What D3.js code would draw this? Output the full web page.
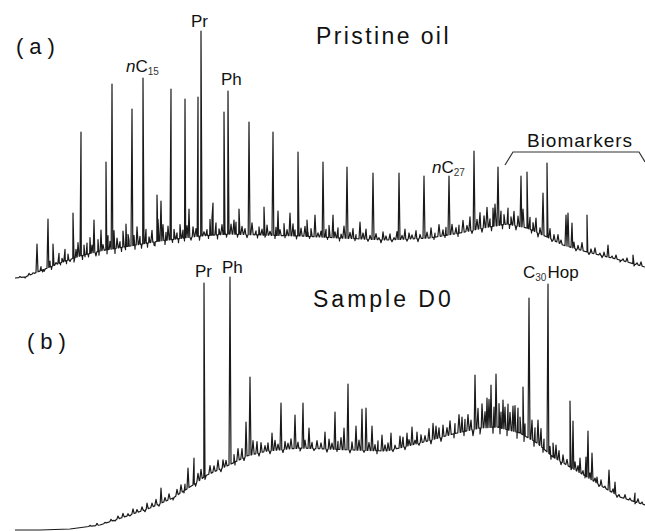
<!DOCTYPE html>
<html>
<head>
<meta charset="utf-8">
<script src="https://cdn.jsdelivr.net/npm/d3@7"></script>
<style>
  body { margin: 0; background: #fff; }
  text { font-family: "Liberation Sans", Arial, sans-serif; fill: #111; }
</style>
</head>
<body>
<div id="container"></div>
<script>
/* DATA */
// (a) pristine oil: baseline (retention time, signal)
const baseA_t = [0, 1, 2.5, 4.5, 6.5, 8.5, 11.5, 14.5, 18.5, 21.5, 24.5, 28.5, 32.5, 37.2, 41.5, 44.5, 46.8, 49.2, 51.2, 53.2, 54.8, 57.2, 60.5, 63];
const baseA_s = [1, 1.5, 4.5, 8.5, 12, 14.5, 17, 19.5, 22, 23, 22.5, 22, 21, 20, 21, 23.5, 26, 28, 26, 21.5, 17.5, 14, 10, 6.5];

// (a) resolved peaks: retention time, apex signal
const peakA_t = [2.2, 3.3, 3.8, 5.8, 6.6, 7.2, 7.9, 8.6, 9.1, 9.7, 11.1, 11.4, 11.7, 12.8, 14.2, 14.6, 15.6, 17.0, 17.4, 18.3, 18.6, 19.8, 20.9, 21.3, 22.4, 23.4, 24.9, 25.8, 26.3, 27.5, 28.3, 29.2, 30.0, 30.8, 31.8, 33.2, 34.5, 35.8, 38.4, 40.9, 43.4, 45.9, 47.8, 48.3, 50.6, 51.2, 52.8, 53.2, 55.1, 55.3, 55.7, 57.2, 59.3, 61.8];
const peakA_s = [18, 30.5, 18, 33.5, 74, 18.5, 30, 25, 59, 98, 28, 20, 85.5, 101, 42.5, 39.5, 95.5, 90.5, 35.5, 91.5, 124.5, 38.5, 84, 94.5, 35.5, 79, 36.5, 74, 34.5, 33.5, 64, 30, 32.5, 59, 32.5, 56.5, 29, 53.5, 53.5, 52, 52, 64.5, 36, 56.5, 52, 54, 43.5, 58.5, 32.5, 33.5, 28.5, 32.5, 17.5, 12.5];

// (a) unresolved small peaks and dips: [time, height above baseline]
const noiseA = [[0.5,0.5],[1.0,-0.5],[1.4,1],[1.8,0.5],[2.6,2],[2.75,-1],[2.9,-1],[3.5,3],[3.65,-1.5],[4.1,1],[4.4,5],[4.55,-1],[4.7,2],[5.0,6],[5.15,-1.5],[5.3,3],[5.5,-1],[5.9,-2],[6.1,4],[6.3,7],[6.75,-2],[6.9,5],[7.0,-1],[7.35,-1.5],[7.5,8],[7.7,4],[8.1,-2],[8.3,6],[8.4,-2],[8.8,3],[9.2,-2],[9.3,7],[9.5,4],[9.9,9],[10.0,-2.5],[10.2,5],[10.5,3],[10.65,-2],[10.8,8],[11.05,-1.5],[11.3,6],[11.9,5],[12.0,-2],[12.2,9],[12.5,4],[12.65,-2],[13.1,7],[13.25,-2],[13.4,3],[13.7,6],[13.9,-1.5],[14.0,-2],[14.3,11],[14.8,8],[15.0,-2],[15.1,4],[15.3,7],[15.75,-1.5],[15.9,5],[16.2,3],[16.35,-2],[16.5,7],[16.8,4],[16.95,-1.5],[17.2,6],[17.6,-1.5],[17.8,5],[18.1,4],[18.45,-2],[18.9,2],[19.2,3],[19.35,-1.5],[19.5,8],[19.7,9],[20.1,6],[20.25,-2],[20.4,3],[20.7,5],[21.0,2],[21.15,-1.5],[21.6,5],[21.9,7],[22.1,6],[22.25,-1.5],[22.7,4],[23.0,3],[23.2,-1.5],[23.7,6],[24.1,2],[24.25,-1.5],[24.4,4],[24.7,3],[25.0,-1],[25.2,5],[25.5,2],[26.0,-1.5],[26.1,4],[26.5,3],[26.9,6],[27.0,-1],[27.2,3],[27.8,6],[28.0,3],[28.15,-1.5],[28.6,4],[29.0,5],[29.3,2],[29.45,-1],[29.6,4],[30.3,2],[30.6,3],[31.1,4],[31.25,-1],[31.4,6],[32.0,3],[32.3,5],[32.45,-1.5],[32.6,2],[32.9,6],[33.5,3],[33.8,5],[34.0,-1],[34.1,2],[34.8,3],[35.1,5],[35.3,-1],[35.5,2],[36.1,3],[36.4,1],[36.6,-1.5],[36.8,4],[37.1,2],[37.5,3],[37.7,-1],[37.9,1],[38.2,4],[38.7,2],[39.0,5],[39.2,-1],[39.4,3],[39.7,2],[40.1,4],[40.3,-1.5],[40.5,2],[41.2,3],[41.6,5],[41.9,-1],[42.0,2],[42.4,6],[42.8,3],[43.0,-1],[43.1,4],[43.7,5],[44.1,3],[44.3,-1.5],[44.4,4],[44.8,6],[45.2,3],[45.5,7],[45.7,-1.5],[46.2,5],[46.5,8],[46.7,-2],[46.9,6],[47.2,10],[47.5,4],[47.65,-2],[48.0,11],[48.6,7],[48.75,-2],[48.9,5],[49.3,8],[49.45,-2],[49.6,4],[49.9,7],[50.1,-2],[50.3,5],[50.8,9],[51.5,6],[51.65,-1.5],[51.8,4],[52.1,7],[52.3,-2],[52.5,3],[53.5,5],[53.7,-1],[53.9,3],[54.3,4],[54.6,2],[55.9,3],[56.1,-1],[56.3,2],[56.7,4],[57.4,-1],[57.6,2],[58.0,3],[58.5,1],[58.7,-1],[58.9,2],[59.7,1],[60.1,2],[60.5,-1],[60.8,1],[61.2,2],[61.9,-1],[62.2,1],[62.6,2]];

// (b) sample D0
const baseB_t = [0, 2.5, 5.5, 8.5, 11.2, 13.5, 15.8, 17.8, 19.2, 21.2, 23.2, 25.2, 28.5, 33.8, 37.2, 40.5, 43.8, 46.5, 48.2, 50.5, 52.2, 53.8, 55.5, 57.2, 58.8, 60.5, 63];
const baseB_s = [0, 0, 0.5, 2.5, 7, 11, 16, 22.5, 27.5, 32, 37, 39.5, 41, 40, 39.5, 43.5, 48, 51, 51.5, 48.5, 43.5, 36.5, 31.5, 26.5, 21.5, 16.5, 12.5];

const peakB_t = [14.6, 17.3, 17.9, 18.9, 21.5, 23.1, 23.5, 25.7, 26.6, 28.0, 28.8, 29.4, 31.0, 32.0, 32.9, 33.3, 34.1, 34.7, 35.1, 35.7, 36.7, 37.6, 38.5, 39.2, 39.7, 40.2, 42.1, 42.8, 44.7, 46.0, 47.2, 47.6, 48.1, 48.8, 49.3, 49.8, 50.3, 50.8, 51.4, 52.3, 53.3, 54.1, 55.5, 55.8, 56.5, 57.1, 57.3, 57.7, 58.2, 59.4, 60.0, 62.0];
const peakB_s = [21, 31, 36, 123.5, 126.5, 54, 76.5, 48.5, 63.5, 57.5, 63.5, 51, 49, 59, 51, 73, 52, 60.5, 61, 52, 47.5, 48.5, 47, 48.5, 51.5, 49, 52, 52.5, 56.5, 77.5, 66, 72.5, 78, 65, 63, 62, 61, 71.5, 116, 55, 123, 42.5, 64.5, 54.5, 36, 36.5, 49.5, 38.5, 26.5, 30, 24, 18.5];

const noiseB = [[7.5,0.5],[8.2,1],[9.0,0.5],[9.6,1],[10.0,-0.5],[10.3,1.5],[10.8,2],[11.3,1],[11.5,-0.5],[11.8,2.5],[12.2,1.5],[12.7,2],[13.0,-1],[13.2,3],[13.7,2],[14.1,3],[14.4,-1],[15.0,2],[15.4,3],[15.8,-1],[16.2,3],[16.6,4],[16.9,-1],[17.0,3],[18.05,-1.5],[18.3,4],[18.6,5],[19.0,-1.5],[19.5,4],[19.9,3],[20.3,5],[20.6,-1.5],[20.8,4],[21.1,3],[21.9,4],[22.0,-1.5],[22.3,6],[22.7,5],[22.9,-1.5],[23.8,7],[24.2,6],[24.4,-1.5],[24.6,5],[25.0,3],[25.3,4],[25.5,-1.5],[26.0,5],[26.3,3],[26.8,-1.5],[27.0,4],[27.3,3],[27.6,5],[28.3,3],[28.5,-1.5],[29.0,4],[29.7,3],[29.9,-1],[30.2,4],[30.6,3],[31.2,-1.5],[31.4,5],[31.7,3],[32.2,-1],[32.3,4],[32.6,6],[33.5,-1.5],[33.7,4],[34.4,5],[34.9,-1],[35.4,4],[36.0,3],[36.2,-1.5],[36.3,5],[37.0,3],[37.3,4],[37.8,-1],[38.0,2],[38.8,5],[39.0,-1.5],[39.4,3],[40.0,2],[40.4,-1],[40.6,4],[41.0,3],[41.4,6],[41.6,-2],[41.8,8],[42.4,5],[42.6,-2],[43.2,4],[43.5,7],[43.9,-2],[44.0,5],[44.4,9],[44.9,-2],[45.0,6],[45.3,8],[45.6,5],[45.8,-3],[46.3,10],[46.5,-3],[46.7,12],[47.0,8],[47.4,14],[47.8,-3],[47.9,10],[48.4,12],[48.5,-3],[48.6,8],[49.0,11],[49.2,-3],[49.5,9],[50.0,13],[50.2,-3],[50.5,8],[50.9,-3],[51.0,6],[51.7,10],[51.9,-2.5],[52.0,7],[52.6,9],[52.8,-2],[52.9,5],[53.5,4],[53.6,-2],[53.8,7],[54.4,5],[54.6,-1.5],[54.8,4],[55.2,3],[55.6,-1],[56.0,4],[56.3,3],[56.8,2],[57.0,-1],[57.5,3],[58.0,2],[58.4,-1],[58.6,3],[59.0,1],[59.8,2],[60.2,-1],[60.4,1],[61.0,2],[61.5,1],[62.0,-1],[62.3,2],[62.7,1]];

// peak labels (name, retention time of the peak)
const labelA_names = ["nC15", "Pr", "Ph", "nC27"];
const labelA_t = [12.8, 18.6, 21.3, 43.4];
const labelB_names = ["Pr", "Ph", "C30Hop"];
const labelB_t = [18.9, 21.5, 53.3];

// biomarker bracket (time, signal) in panel a
const bracket_t = [49.0, 49.8, 62.4, 63.0];
const bracket_s = [57.5, 64, 64, 59];

/* CONSTANTS */
const width = 645, height = 531;

const svg = d3.select("#container")
  .append("svg")
  .attr("width", width)
  .attr("height", height)

const x = d3.scaleLinear().domain([0, 63]).range([15, 645])
const ya = d3.scaleLinear().domain([0, 128]).range([280, 24])
const yb = d3.scaleLinear().domain([0, 128]).range([530, 274])

// build the trace vertices from baseline + peaks
function traceVerts(bt, bs, pt, ps, noise) {
  const base = d3.scaleLinear().domain(bt).range(bs).clamp(true)
  const w = 0.1, wn = 0.12
  let v = bt.map((t, i) => [t, bs[i]])
  pt.forEach((t, i) => {
    v.push([t - w, base(t - w)], [t, ps[i]], [t + w, base(t + w)])
  })
  noise.forEach(([t, h]) => {
    v.push([t - wn, base(t - wn)], [t, base(t) + h], [t + wn, base(t + wn)])
  })
  return v.sort((a, b) => a[0] - b[0])
}

function drawTrace(y, verts) {
  const line = d3.line().x(d => x(d[0])).y(d => y(d[1]))
  svg.append("path")
    .attr("d", line(verts))
    .attr("fill", "none")
    .attr("stroke", "#1a1a1a")
    .attr("stroke-width", 1.2)
    .attr("stroke-linejoin", "round")
}

drawTrace(ya, traceVerts(baseA_t, baseA_s, peakA_t, peakA_s, noiseA))
drawTrace(yb, traceVerts(baseB_t, baseB_s, peakB_t, peakB_s, noiseB))

// peak labels
function label(y, name, t, pt, ps, dx, dy) {
  const apex = ps[pt.indexOf(t)]
  const txt = svg.append("text")
    .attr("x", x(t) + dx)
    .attr("y", y(apex) + dy)
    .attr("font-size", 17)
  const m = name.match(/^(n?)(C)(\d+)(.*)$/)
  if (!m) { txt.text(name); return }
  if (m[1]) txt.append("tspan").attr("font-style", "italic").text(m[1])
  txt.append("tspan").text(m[2])
  txt.append("tspan").attr("font-size", 10).attr("dy", 3).attr("fill", "#333").text(m[3])
  if (m[4]) txt.append("tspan").attr("dy", -3).attr("dx", 1).text(m[4])
}

const offA = { nC15: [-17, -6], Pr: [-10, -4], Ph: [-7, -6], nC27: [-17, -3] }
const offB = { Pr: [-9, -6], Ph: [-8, -4], C30Hop: [-25, -6] }
labelA_names.forEach((n, i) => label(ya, n, labelA_t[i], peakA_t, peakA_s, offA[n][0], offA[n][1]))
labelB_names.forEach((n, i) => label(yb, n, labelB_t[i], peakB_t, peakB_s, offB[n][0], offB[n][1]))

// biomarker bracket
svg.append("path")
  .attr("d", d3.line().x(d => x(d[0])).y(d => ya(d[1]))(bracket_t.map((t, i) => [t, bracket_s[i]])))
  .attr("fill", "none")
  .attr("stroke", "#333")
  .attr("stroke-width", 1.2)

svg.append("text")
  .attr("x", x((bracket_t[1] + bracket_t[2]) / 2) + 4)
  .attr("y", ya(bracket_s[1]) - 5)
  .attr("text-anchor", "middle")
  .attr("font-size", 19)
  .attr("letter-spacing", 1)
  .text("Biomarkers")

// panel titles
svg.append("text").attr("x", 16).attr("y", 54).attr("font-size", 22).attr("letter-spacing", 6).text("(a)")
svg.append("text").attr("x", 27).attr("y", 349).attr("font-size", 22).attr("letter-spacing", 6).text("(b)")
svg.append("text").attr("x", 316).attr("y", 44).attr("font-size", 23).attr("letter-spacing", 2.4).text("Pristine oil")
svg.append("text").attr("x", 313).attr("y", 307).attr("font-size", 23).attr("letter-spacing", 3).text("Sample D0")
</script>
</body>
</html>
